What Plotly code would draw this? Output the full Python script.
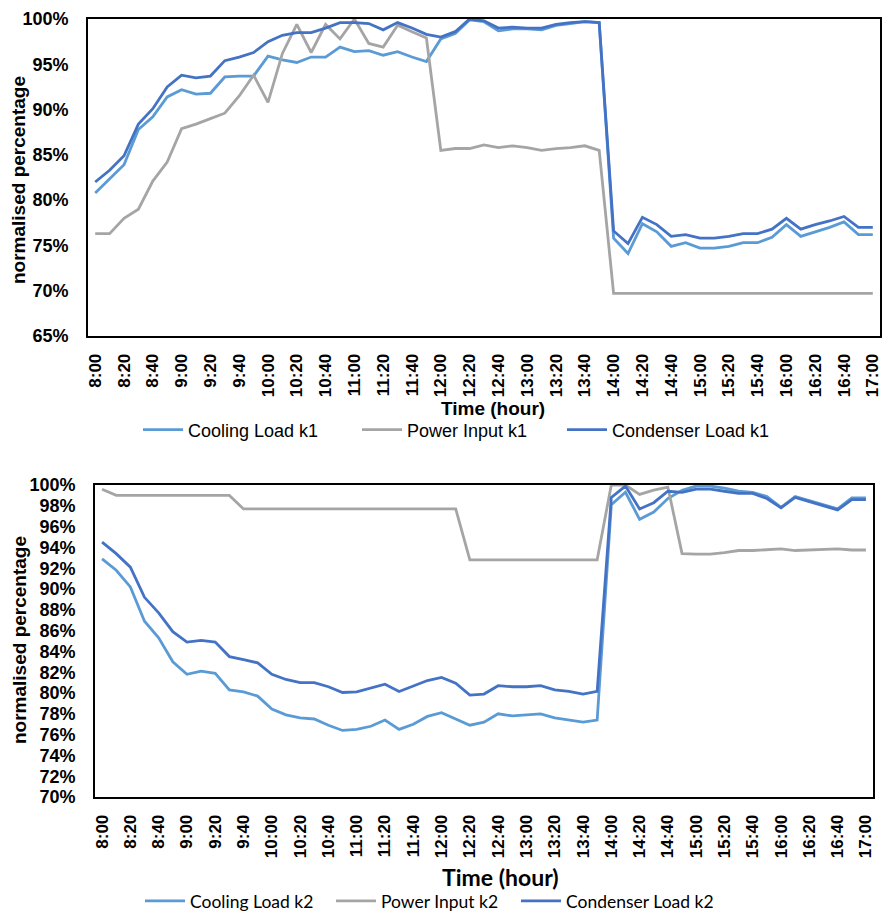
import plotly.graph_objects as go

W, H = 882, 913

times = ["8:00", "8:10", "8:20", "8:30", "8:40", "8:50", "9:00", "9:10", "9:20", "9:30",
         "9:40", "9:50", "10:00", "10:10", "10:20", "10:30", "10:40", "10:50", "11:00", "11:10",
         "11:20", "11:30", "11:40", "11:50", "12:00", "12:10", "12:20", "12:30", "12:40", "12:50",
         "13:00", "13:10", "13:20", "13:30", "13:40", "13:50", "14:00", "14:10", "14:20", "14:30",
         "14:40", "14:50", "15:00", "15:10", "15:20", "15:30", "15:40", "15:50", "16:00", "16:10",
         "16:20", "16:30", "16:40", "16:50", "17:00"]
tick_labels = ["8:00", "8:20", "8:40", "9:00", "9:20", "9:40", "10:00", "10:20", "10:40", "11:00",
               "11:20", "11:40", "12:00", "12:20", "12:40", "13:00", "13:20", "13:40", "14:00", "14:20",
               "14:40", "15:00", "15:20", "15:40", "16:00", "16:20", "16:40", "17:00"]
y1_ticks = [65, 70, 75, 80, 85, 90, 95, 100]
y1_text = ["65%", "70%", "75%", "80%", "85%", "90%", "95%", "100%"]
y2_ticks = [70, 72, 74, 76, 78, 80, 82, 84, 86, 88, 90, 92, 94, 96, 98, 100]
y2_text = ["70%", "72%", "74%", "76%", "78%", "80%", "82%", "84%", "86%", "88%", "90%",
           "92%", "94%", "96%", "98%", "100%"]

# ---- chart 1 (k1) ----
cooling_k1 = [80.8, 82.3, 83.9, 87.8, 89.2, 91.4, 92.2, 91.7, 91.8, 93.6,
              93.7, 93.7, 95.9, 95.5, 95.2, 95.8, 95.8, 96.9, 96.4, 96.5,
              96.0, 96.4, 95.8, 95.3, 97.8, 98.4, 99.9, 99.7, 98.7, 98.9,
              98.9, 98.8, 99.3, 99.5, 99.7, 99.6, 75.8, 74.1, 77.4, 76.5,
              74.9, 75.3, 74.7, 74.7, 74.9, 75.3, 75.3, 75.9, 77.3, 76.0,
              76.5, 77.0, 77.6, 76.2, 76.2]
power_k1 = [76.3, 76.3, 78.0, 79.0, 82.1, 84.2, 87.9, 88.4, 89.0, 89.6,
            91.5, 93.8, 90.8, 96.2, 99.4, 96.3, 99.4, 97.8, 100.0, 97.3,
            96.9, 99.3, 98.6, 97.9, 85.5, 85.7, 85.7, 86.1, 85.8, 86.0,
            85.8, 85.5, 85.7, 85.8, 86.0, 85.5, 69.7, 69.7, 69.7, 69.7,
            69.7, 69.7, 69.7, 69.7, 69.7, 69.7, 69.7, 69.7, 69.7, 69.7,
            69.7, 69.7, 69.7, 69.7, 69.7]
condenser_k1 = [82.0, 83.3, 84.9, 88.4, 90.1, 92.5, 93.8, 93.5, 93.7, 95.4,
                95.8, 96.3, 97.5, 98.2, 98.5, 98.5, 99.0, 99.6, 99.6, 99.5,
                98.8, 99.6, 99.0, 98.3, 98.0, 98.6, 100.0, 99.8, 99.0, 99.1,
                99.0, 99.0, 99.4, 99.6, 99.7, 99.6, 76.6, 75.2, 78.1, 77.3,
                76.0, 76.2, 75.8, 75.8, 76.0, 76.3, 76.3, 76.8, 78.0, 76.8,
                77.3, 77.7, 78.2, 77.0, 77.0]

# ---- chart 2 (k2) ----
cooling_k2 = [92.9, 91.8, 90.2, 86.9, 85.3, 83.0, 81.8, 82.1, 81.9, 80.3,
              80.1, 79.7, 78.45, 77.9, 77.6, 77.5, 76.9, 76.4, 76.5, 76.8,
              77.4, 76.5, 77.0, 77.75, 78.1, 77.5, 76.9, 77.2, 78.0, 77.8,
              77.9, 78.0, 77.6, 77.4, 77.2, 77.4, 98.1, 99.3, 96.7, 97.4,
              98.7, 99.5, 99.9, 99.9, 99.7, 99.4, 99.3, 98.9, 97.85, 98.9,
              98.5, 98.1, 97.7, 98.75, 98.75]
power_k2 = [99.6, 99.0, 99.0, 99.0, 99.0, 99.0, 99.0, 99.0, 99.0, 99.0,
            97.7, 97.7, 97.7, 97.7, 97.7, 97.7, 97.7, 97.7, 97.7, 97.7,
            97.7, 97.7, 97.7, 97.7, 97.7, 97.7, 92.8, 92.8, 92.8, 92.8,
            92.8, 92.8, 92.8, 92.8, 92.8, 92.8, 100.0, 100.0, 99.1, 99.5,
            99.8, 93.4, 93.35, 93.35, 93.5, 93.7, 93.7, 93.75, 93.85, 93.7,
            93.75, 93.85, 93.85, 93.75, 93.75]
condenser_k2 = [94.5, 93.4, 92.1, 89.2, 87.7, 85.9, 84.9, 85.05, 84.9, 83.5,
                83.2, 82.9, 81.8, 81.3, 81.0, 81.0, 80.6, 80.05, 80.1, 80.5,
                80.85, 80.15, 80.7, 81.2, 81.5, 80.95, 79.8, 79.9, 80.7, 80.6,
                80.6, 80.7, 80.3, 80.15, 79.9, 80.15, 98.8, 99.9, 97.7, 98.3,
                99.4, 99.3, 99.6, 99.6, 99.4, 99.2, 99.2, 98.7, 97.8, 98.8,
                98.4, 98.0, 97.6, 98.6, 98.6]

C_COOL = "#5B9BD5"
C_POWER = "#A5A5A5"
C_COND = "#4472C4"
LW = 2.8

ARIAL = "Liberation Sans, Arial, sans-serif"
CALIBRI = "Lato, Liberation Sans, sans-serif"


def px_x(v):
    return v / W


def px_y(v):
    return 1 - v / H


fig = go.Figure()

# (name, values, colour, xaxis, yaxis, legend id, legend left px, legend centre y px, font)
series = [
    ("Cooling Load k1", cooling_k1, C_COOL, "x", "y", "legend", 138, 430, ARIAL, 18),
    ("Power Input k1", power_k1, C_POWER, "x", "y", "legend2", 357, 430, ARIAL, 18),
    ("Condenser Load k1", condenser_k1, C_COND, "x", "y", "legend3", 562, 430, ARIAL, 18),
    ("Cooling Load k2", cooling_k2, C_COOL, "x2", "y2", "legend4", 140, 901, CALIBRI, 17.5),
    ("Power Input k2", power_k2, C_POWER, "x2", "y2", "legend5", 331, 901, CALIBRI, 17.5),
    ("Condenser Load k2", condenser_k2, C_COND, "x2", "y2", "legend6", 516, 901, CALIBRI, 17.5),
]

legend_layouts = {}
for name, vals, col, xa, ya, lg, lx, ly, fam, fs in series:
    fig.add_trace(go.Scatter(x=times, y=vals, name=name, mode="lines", showlegend=True,
                             line=dict(color=col, width=LW),
                             xaxis=xa, yaxis=ya, legend=lg))
    legend_layouts[lg] = dict(orientation="h", x=px_x(lx), xanchor="left",
                              y=px_y(ly), yanchor="middle", itemwidth=40,
                              visible=True,
                              font=dict(family=fam, size=fs, color="black"),
                              bgcolor="rgba(0,0,0,0)")

common_x = dict(type="category", categoryorder="array", categoryarray=times,
                range=[-0.5, len(times) - 0.5], automargin=False,
                tickmode="array", tickvals=tick_labels, ticktext=tick_labels,
                tickangle=-90, ticks="", ticklen=0, showgrid=False, zeroline=False,
                showline=True, linecolor="black", linewidth=1.8, mirror=True,
                tickfont=dict(family=ARIAL, size=17, color="black", weight="bold"),
                ticklabelstandoff=9)
common_y = dict(showgrid=False, zeroline=False, ticks="", ticklen=0, automargin=False,
                showline=True, linecolor="black", linewidth=1.8, mirror=True,
                tickmode="array",
                tickfont=dict(family=ARIAL, size=18, color="black", weight="bold"),
                ticklabelstandoff=14)

fig.update_layout(
    width=W, height=H,
    showlegend=True,
    margin=dict(l=0, r=0, t=0, b=0, autoexpand=False),
    paper_bgcolor="white", plot_bgcolor="white",
    xaxis=dict(domain=[px_x(88), px_x(880)], anchor="y", **common_x),
    yaxis=dict(domain=[px_y(336), px_y(19)], anchor="x", range=[65, 100],
               tickvals=y1_ticks, ticktext=y1_text, **common_y),
    xaxis2=dict(domain=[px_x(95), px_x(873)], anchor="y2", **common_x),
    yaxis2=dict(domain=[px_y(797), px_y(485)], anchor="x2", range=[70, 100],
                tickvals=y2_ticks, ticktext=y2_text, **common_y),
    annotations=[
        dict(text="normalised percentage", xref="paper", yref="paper",
             x=px_x(19), y=px_y(180), textangle=-90, showarrow=False,
             xanchor="center", yanchor="middle",
             font=dict(family=ARIAL, size=19, color="black", weight="bold")),
        dict(text="Time (hour)", xref="paper", yref="paper",
             x=px_x(493), y=px_y(408), showarrow=False,
             xanchor="center", yanchor="middle",
             font=dict(family=ARIAL, size=19, color="black", weight="bold")),
        dict(text="normalised percentage", xref="paper", yref="paper",
             x=px_x(19), y=px_y(640), textangle=-90, showarrow=False,
             xanchor="center", yanchor="middle",
             font=dict(family=ARIAL, size=19, color="black", weight="bold")),
        dict(text="Time (hour)", xref="paper", yref="paper",
             x=px_x(501), y=px_y(877), showarrow=False,
             xanchor="center", yanchor="middle",
             font=dict(family=CALIBRI, size=23, color="black", weight="bold")),
    ],
)
fig.update_layout(**legend_layouts)

fig.write_html("out.html", config={"displayModeBar": False},
               post_script="document.body.style.margin='0';document.body.style.padding='0';"
                           "document.body.style.overflow='hidden';")
